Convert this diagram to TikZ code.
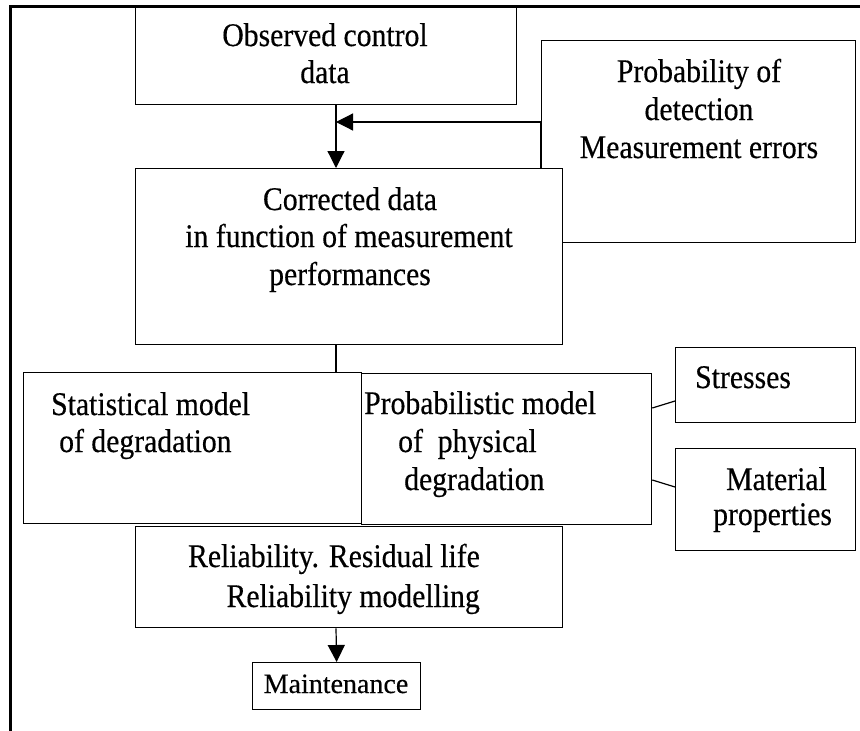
\documentclass[tikz,border=0pt]{standalone}
\usepackage{fontspec}
\setmainfont{Liberation Serif}[FakeStretch=0.9,FakeBold=0.4]
\newfontfamily\plainserif{Liberation Serif}[FakeBold=0.3]
\usetikzlibrary{arrows.meta,calc}
\begin{document}
\begin{tikzpicture}[x=1pt,y=-1pt,
  box/.style={draw=black, line width=1.3pt, fill=white, inner sep=0pt, anchor=north west},
  txt/.style={inner sep=0pt, font=\fontsize{33}{37}\selectfont},
  smalltxt/.style={inner sep=0pt, font=\plainserif\fontsize{28}{33}\selectfont},
  conn/.style={line width=1.2pt},
  arr/.style={conn, -{Triangle[length=17pt,width=17pt]}},
]
\useasboundingbox (0,0) rectangle (860,731);
% boxes
\node[box, minimum width=381pt, minimum height=97pt] (obs) at (135,7) {};
\node[box, minimum width=314pt, minimum height=202pt] (prob) at (541,40) {};
\node[box, minimum width=427pt, minimum height=176pt] (corr) at (135,168) {};
\node[box, minimum width=338pt, minimum height=151pt] (stat) at (23,372) {};
\node[box, minimum width=290pt, minimum height=151pt] (probm) at (361,373) {};
\node[box, minimum width=427pt, minimum height=101pt] (rel) at (135,526) {};
\node[box, minimum width=168pt, minimum height=47pt] (maint) at (252,662) {};
\node[box, minimum width=180pt, minimum height=75pt] (str) at (675,347) {};
\node[box, minimum width=180pt, minimum height=102pt] (mat) at (675,448) {};
% texts
\node[txt, anchor=base] (obs1) at (325,46) {Observed control};
\node[txt, anchor=base] (obs2) at (325,83) {data};
\node[txt, anchor=base] (prob1) at (699,82) {Probability of};
\node[txt, anchor=base] (prob2) at (699,120) {detection};
\node[txt, anchor=base] (prob3) at (699,158) {Measurement errors};
\node[txt, anchor=base] (corr1) at (350,210) {Corrected data};
\node[txt, anchor=base] (corr2) at (349,247) {in function of measurement};
\node[txt, anchor=base] (corr3) at (350,285) {performances};
\node[txt, anchor=base west] (stat1) at (51,415) {Statistical model};
\node[txt, anchor=base west] (stat2) at (59,452) {of degradation};
\node[txt, anchor=base west] (pm1) at (364,414) {Probabilistic model};
\node[txt, anchor=base west] (pm2) at (398,452) {of\ \ physical};
\node[txt, anchor=base west] (pm3) at (404,490) {degradation};
\node[txt, anchor=base west] (str1) at (695,388) {Stresses};
\node[txt, anchor=base west] (mat1) at (726,490) {Material};
\node[txt, anchor=base west] (mat2) at (713,525) {properties};
\node[txt, anchor=base east] (rel1) at (480,567) {Reliability. Residual life};
\node[txt, anchor=base east] (rel2) at (480,607) {Reliability modelling};
\node[smalltxt, anchor=base] (mt1) at (336,693) {Maintenance};
% connectors
\coordinate (ax) at (336,0);
\coordinate (jn) at (336,122);
\draw[arr] (obs.south -| ax) -- (corr.north -| ax);
\draw[arr] (prob.west |- corr.north) |- (jn);
\draw[conn] (corr.south -| ax) -- (stat.north -| ax);
\draw[arr] (rel.south -| ax) -- (maint.north);
\draw[conn] ($(probm.north east)+(0,35)$) -- ($(str.north west)+(0,54)$);
\draw[conn] ($(probm.north east)+(0,107)$) -- ($(mat.north west)+(0,39)$);
% frame
\draw[line width=3pt] (860,6.5) -- (10.5,6.5) -- (10.5,731);
\end{tikzpicture}
\end{document}
